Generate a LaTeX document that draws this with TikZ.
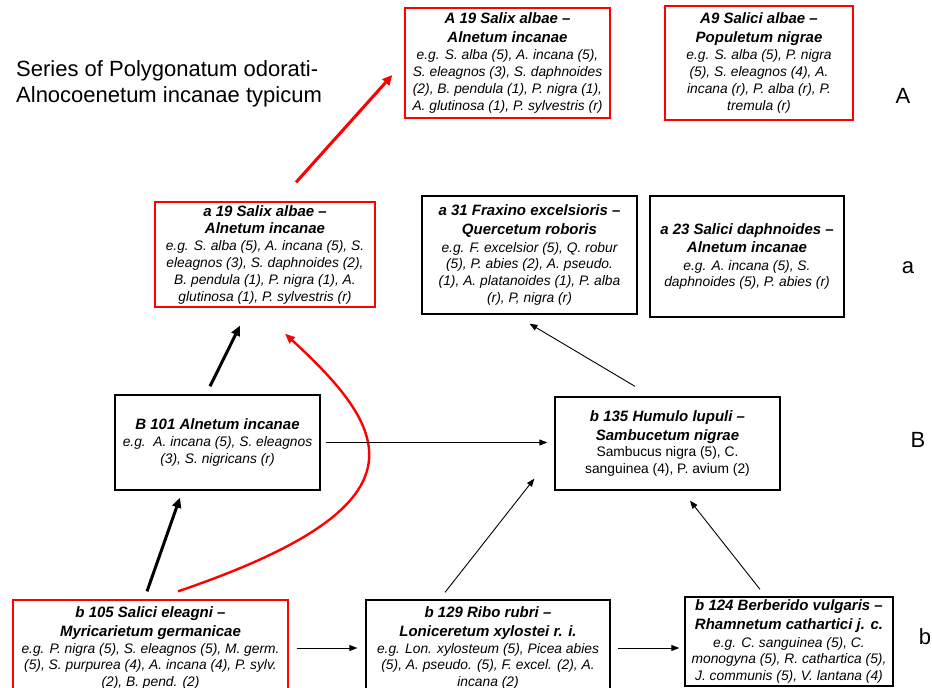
\documentclass[tikz,border=0pt]{standalone}
\usepackage{fontspec}
\setmainfont{Liberation Sans}
\usetikzlibrary{arrows.meta}
\newcommand\hd[1]{{\fontsize{15}{18}\selectfont\bfseries #1}}
\begin{document}
\begin{tikzpicture}[x=1pt,y=-1pt,
  box/.style={draw=black, line width=1.3pt, align=center, inner sep=0pt,
    font=\fontsize{13.8}{16.8}\selectfont\itshape},
  redbox/.style={box, draw=red},
  lbl/.style={font=\fontsize{22}{26}\selectfont, inner sep=0pt},
  thinarr/.style={-{Triangle[length=8pt,width=6pt]}, line width=0.9pt},
  thickarr/.style={-{Triangle[length=10pt,width=9pt]}, line width=3pt}]
\useasboundingbox[fill=white] (0,0) rectangle (932,688);

% title and level letters
\node[lbl, anchor=west, align=left] (title) at (16,84) {Series of Polygonatum odorati-\\Alnocoenetum incanae typicum};
\node[lbl] (LA) at (903,96) {A};
\node[lbl] (La) at (908,268) {a};
\node[lbl] (LB) at (918,440) {B};
\node[lbl] (Lb) at (925,637) {b};

% level A
\node[redbox, minimum width=205pt, minimum height=110pt] (A19) at (507.5,63)
  {\hd{A 19 Salix albae –}\\[2pt]\hd{Alnetum incanae}\\[0.5pt]e.g. S. alba (5), A. incana (5),\\S. eleagnos (3), S. daphnoides\\(2), B. pendula (1), P. nigra (1),\\A. glutinosa (1), P. sylvestris (r)};
\node[redbox, minimum width=188pt, minimum height=114pt] (A9) at (759,63)
  {\hd{A9 Salici albae –}\\[2pt]\hd{Populetum nigrae}\\[0.5pt]e.g. S. alba (5), P. nigra\\(5), S. eleagnos (4), A.\\incana (r), P. alba (r), P.\\tremula (r)};

% level a
\node[redbox, minimum width=220pt, minimum height=105pt] (a19) at (265,254.5)
  {\hd{a 19 Salix albae –}\\[1pt]\hd{Alnetum incanae}\\e.g. S. alba (5), A. incana (5), S.\\eleagnos (3), S. daphnoides (2),\\B. pendula (1), P. nigra (1), A.\\glutinosa (1), P. sylvestris (r)};
\node[box, minimum width=215pt, minimum height=118pt] (a31) at (529.5,255)
  {\hd{a 31 Fraxino excelsioris –}\\[2pt]\hd{Quercetum roboris}\\[1pt]e.g. F. excelsior (5), Q. robur\\(5), P. abies (2), A. pseudo.\\(1), A. platanoides (1), P. alba\\(r), P, nigra (r)};
\node[box, minimum width=194pt, minimum height=121pt] (a23) at (747,256.5)
  {\hd{a 23 Salici daphnoides –}\\[2pt]\hd{Alnetum incanae}\\[0.5pt]e.g. A. incana (5), S.\\daphnoides (5), P. abies (r)};

% level B
\node[box, minimum width=205pt, minimum height=95pt] (B101) at (217.5,442.5)
  {\hd{B 101 Alnetum incanae}\\e.g.\ \ A. incana (5), S. eleagnos\\(3), S. nigricans (r)};
\node[box, minimum width=225pt, minimum height=93pt] (b135) at (667.5,443.5)
  {\hd{b 135 Humulo lupuli –}\\[2pt]\hd{Sambucetum nigrae}\\\upshape Sambucus nigra (5), C.\\\upshape sanguinea (4), P. avium (2)};

% level b
\node[redbox, minimum width=275pt, minimum height=96pt] (b105) at (150.5,648)
  {\hd{b 105 Salici eleagni –}\\[2pt]\hd{Myricarietum germanicae}\\e.g. P. nigra (5), S. eleagnos (5), M. germ.\\(5), S. purpurea (4), A. incana (4), P. sylv.\\(2), B. pend. (2)};
\node[box, minimum width=244pt, minimum height=96pt] (b129) at (488,648)
  {\hd{b 129 Ribo rubri –}\\[2pt]\hd{Loniceretum xylostei r. i.}\\e.g. Lon. xylosteum (5), Picea abies\\(5), A. pseudo. (5), F. excel. (2), A.\\incana (2)};
\node[box, minimum width=208pt, minimum height=89pt] (b124) at (789,641.5)
  {\hd{b 124 Berberido vulgaris –}\\[2pt]\hd{Rhamnetum cathartici j. c.}\\[1pt]e.g. C. sanguinea (5), C.\\monogyna (5), R. cathartica (5),\\J. communis (5), V. lantana (4)};

% connectors
\draw[thickarr, red] ([xshift=31pt,yshift=19pt]a19.north) -- ([xshift=-12pt,yshift=-12pt]A19.west);
\draw[thickarr] ([xshift=-7.5pt,yshift=8pt]B101.north) -- ([xshift=-25pt,yshift=-18pt]a19.south);
\draw[thickarr] ([xshift=-3.5pt,yshift=8pt]b105.north) -- ([xshift=-37.5pt,yshift=-7pt]B101.south);
\draw[-{Triangle[length=10pt,width=8pt]}, line width=2.4pt, red]
  ([xshift=27.5pt,yshift=8pt]b105.north) .. controls (432,505) and (392,432) .. ([xshift=20pt,yshift=-26pt]a19.south);
\draw[thinarr] ([xshift=5pt]B101.east) -- ([xshift=-7pt,yshift=1pt]b135.west);
\draw[thinarr] ([xshift=-32.5pt,yshift=10pt]b135.north) -- ([yshift=-9pt]a31.south);
\draw[thinarr] ([xshift=-43pt,yshift=7pt]b129.north) -- ([xshift=-20pt,yshift=12pt]b135.south west);
\draw[thinarr] ([xshift=-29pt,yshift=7pt]b124.north) -- ([xshift=22.5pt,yshift=-10pt]b135.south);
\draw[thinarr] ([xshift=8pt]b105.east) -- ([xshift=-8pt]b129.west);
\draw[thinarr] ([xshift=7pt]b129.east) -- ([xshift=-5pt,yshift=-6.5pt]b124.west);
\end{tikzpicture}
\end{document}
